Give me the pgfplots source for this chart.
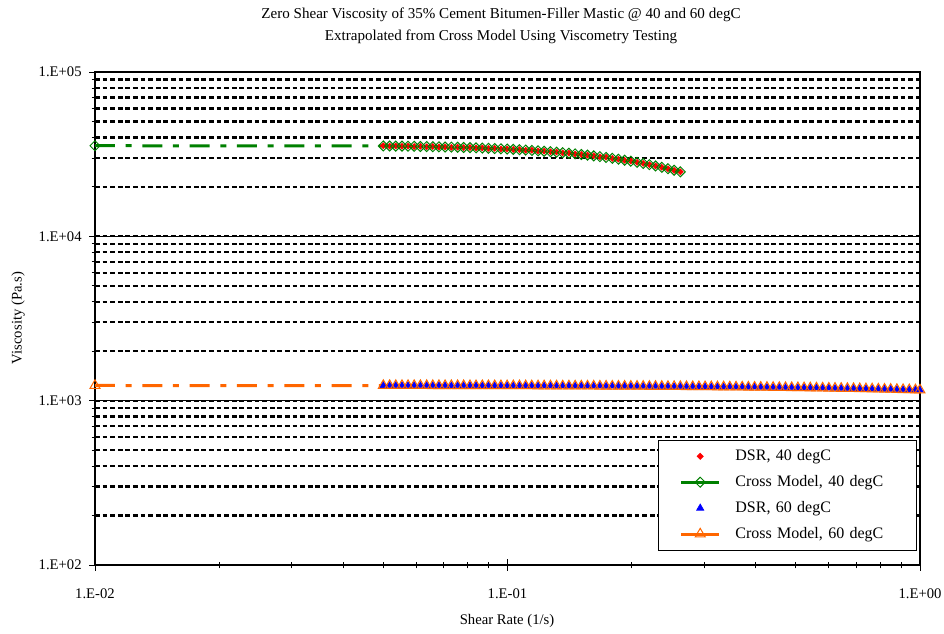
\documentclass[border=0pt]{standalone}
\usepackage{fontspec}
\setmainfont{Liberation Serif}
\usepackage{pgfplots}
\pgfplotsset{compat=1.18}
\usepackage{pgfplotstable}
\definecolor{xlgreen}{RGB}{0,128,0}
\definecolor{xlorange}{RGB}{255,102,0}

\pgfplotstableread{
x y
0.0500 35600
0.0518 35400
0.0536 35500
0.0555 35300
0.0574 35400
0.0594 35200
0.0615 35300
0.0637 35100
0.0659 35200
0.0682 35000
0.0706 35000
0.0731 34800
0.0757 34900
0.0783 34700
0.0811 34700
0.0839 34500
0.0869 34500
0.0899 34300
0.0931 34300
0.0964 34000
0.0998 34000
0.1033 33800
0.1069 33700
0.1107 33400
0.1146 33400
0.1186 33100
0.1227 33000
0.1271 32700
0.1315 32600
0.1361 32200
0.1409 32100
0.1459 31700
0.1510 31500
0.1563 31200
0.1618 30900
0.1675 30500
0.1734 30300
0.1795 29800
0.1858 29500
0.1923 29000
0.1991 28700
0.2061 28200
0.2133 27800
0.2208 27300
0.2286 26800
0.2366 26300
0.2449 25800
0.2535 25200
0.2624 24700
}\dsrforty

\pgfplotstableread{
x y
0.0100 35600
0.0500 35500
0.0518 35460
0.0536 35420
0.0555 35380
0.0574 35340
0.0594 35290
0.0615 35230
0.0637 35180
0.0659 35120
0.0682 35050
0.0706 34980
0.0731 34910
0.0757 34830
0.0783 34740
0.0811 34650
0.0839 34560
0.0869 34450
0.0899 34340
0.0931 34220
0.0964 34090
0.0998 33960
0.1033 33820
0.1069 33660
0.1107 33500
0.1146 33320
0.1186 33140
0.1227 32940
0.1271 32730
0.1315 32510
0.1361 32280
0.1409 32030
0.1459 31760
0.1510 31480
0.1563 31190
0.1618 30880
0.1675 30550
0.1734 30210
0.1795 29850
0.1858 29470
0.1923 29070
0.1991 28660
0.2061 28220
0.2133 27770
0.2208 27310
0.2286 26820
0.2366 26310
0.2449 25790
0.2535 25250
0.2624 24700
}\crossforty

\pgfplotstableread{
x y
0.0500 1237
0.0518 1234
0.0536 1236
0.0555 1235
0.0574 1233
0.0594 1236
0.0615 1234
0.0637 1235
0.0659 1233
0.0682 1235
0.0706 1234
0.0731 1232
0.0757 1235
0.0783 1233
0.0811 1232
0.0839 1234
0.0869 1231
0.0899 1233
0.0931 1232
0.0964 1230
0.0998 1232
0.1033 1231
0.1069 1229
0.1107 1231
0.1145 1230
0.1186 1228
0.1227 1230
0.1271 1229
0.1315 1227
0.1361 1229
0.1409 1228
0.1459 1226
0.1510 1228
0.1563 1226
0.1618 1225
0.1675 1227
0.1734 1224
0.1795 1225
0.1858 1223
0.1923 1224
0.1991 1222
0.2061 1223
0.2133 1221
0.2208 1220
0.2285 1221
0.2366 1219
0.2449 1220
0.2535 1217
0.2624 1218
0.2716 1216
0.2812 1217
0.2911 1214
0.3013 1215
0.3119 1212
0.3228 1213
0.3342 1211
0.3459 1212
0.3581 1209
0.3707 1210
0.3837 1207
0.3972 1208
0.4111 1205
0.4256 1205
0.4405 1203
0.4560 1203
0.4720 1200
0.4886 1201
0.5058 1197
0.5236 1198
0.5420 1194
0.5610 1195
0.5807 1191
0.6012 1192
0.6223 1188
0.6441 1188
0.6668 1184
0.6902 1185
0.7145 1181
0.7396 1181
0.7656 1177
0.7925 1177
0.8203 1173
0.8491 1172
0.8790 1168
0.9099 1168
0.9418 1164
0.9749 1163
1.0000 1160
}\dsrsixty

\pgfplotstableread{
x y
0.0100 1237
0.0500 1235.7
0.0518 1235.6
0.0536 1235.4
0.0555 1235.3
0.0574 1235.1
0.0594 1234.9
0.0615 1234.8
0.0637 1234.6
0.0659 1234.4
0.0682 1234.2
0.0706 1234.0
0.0731 1233.8
0.0757 1233.6
0.0783 1233.3
0.0811 1233.1
0.0839 1232.9
0.0869 1232.6
0.0899 1232.4
0.0931 1232.1
0.0964 1231.8
0.0998 1231.5
0.1033 1231.2
0.1069 1230.9
0.1107 1230.6
0.1145 1230.3
0.1186 1229.9
0.1227 1229.6
0.1271 1229.2
0.1315 1228.9
0.1361 1228.5
0.1409 1228.1
0.1459 1227.6
0.1510 1227.2
0.1563 1226.8
0.1618 1226.3
0.1675 1225.8
0.1734 1225.3
0.1795 1224.8
0.1858 1224.3
0.1923 1223.8
0.1991 1223.2
0.2061 1222.6
0.2133 1222.0
0.2208 1221.4
0.2285 1220.8
0.2366 1220.1
0.2449 1219.4
0.2535 1218.7
0.2624 1218.0
0.2716 1217.2
0.2812 1216.4
0.2911 1215.6
0.3013 1214.8
0.3119 1213.9
0.3228 1213.0
0.3342 1212.1
0.3459 1211.1
0.3581 1210.1
0.3707 1209.1
0.3837 1208.0
0.3972 1206.9
0.4111 1205.8
0.4256 1204.7
0.4405 1203.5
0.4560 1202.2
0.4720 1200.9
0.4886 1199.6
0.5058 1198.2
0.5236 1196.8
0.5420 1195.4
0.5610 1193.9
0.5807 1192.3
0.6012 1190.7
0.6223 1189.0
0.6441 1187.3
0.6668 1185.6
0.6902 1183.8
0.7145 1181.9
0.7396 1180.0
0.7656 1178.0
0.7925 1175.9
0.8203 1173.8
0.8491 1171.6
0.8790 1169.4
0.9099 1167.0
0.9418 1164.7
0.9749 1162.2
1.0000 1160.3
}\crosssixty

\begin{document}
\begin{tikzpicture}
\path[use as bounding box] (0pt,0pt) rectangle (708pt,474.75pt);
\begin{axis}[
  at={(71.25pt,51pt)}, anchor=south west,
  width=618.75pt, height=369.75pt, scale only axis,
  xmode=log, ymode=log,
  xmin=0.01, xmax=1, ymin=100, ymax=100000,
  xtick={0.01,0.1,1}, xticklabels={1.E-02,1.E-01,1.E+00},
  ytick={100,1000,10000,100000}, yticklabels={1.E+02,1.E+03,1.E+04,1.E+05},
  tick pos=left,
  tick align=center,
  major tick length=9pt, minor tick length=5pt,
  every tick/.style={black, line width=0.6pt},
  ymajorgrids, yminorgrids,
  major grid style={black, line width=0.75pt},
  minor grid style={black, line width=1.7pt, dash pattern=on 3.6pt off 2.1pt},
  axis line style={black, line width=1pt},
  ticklabel style={font=\fontsize{11}{13}\selectfont},
  xticklabel style={yshift=-10pt},
  yticklabel style={xshift=-2pt},
  legend style={at={(0.6824,0.2535)}, anchor=north west, draw=black, line width=0.6pt,
    font=\fontsize{12}{14}\selectfont, row sep=5.6pt, column sep=9pt,
    inner xsep=16pt, inner ysep=5pt,
    nodes={text width=118pt, align=left, inner sep=2pt}},
  legend cell align=left,
  legend image code/.code={\draw[mark repeat=2,mark phase=2,#1,solid] plot coordinates {(0pt,0pt) (14.25pt,0pt) (28.5pt,0pt)};},
]
\addplot[only marks, mark=square*, mark size=1.6pt, mark options={rotate=45, red, fill=red}] table {\dsrforty};
\addlegendentry{DSR, 40 degC}
\addplot[xlgreen, line width=2.25pt, dash pattern=on 15pt off 8pt on 4.5pt off 8pt,
  mark=square, mark size=2.65pt, mark options={rotate=45, solid, line width=0.75pt, xlgreen}] table {\crossforty};
\addlegendentry{Cross Model, 40 degC}
\addplot[only marks, mark=triangle*, mark size=3pt, mark options={blue, fill=blue}] table {\dsrsixty};
\addlegendentry{DSR, 60 degC}
\addplot[xlorange, line width=2.25pt, dash pattern=on 15pt off 8pt on 4.5pt off 8pt,
  mark=triangle, mark size=4.3pt, mark options={solid, line width=0.75pt, xlorange}] table {\crosssixty};
\addlegendentry{Cross Model, 60 degC}
\end{axis}
\node[align=center, font=\fontsize{11.3}{16.5}\selectfont] at (375.75pt,455.25pt)
  {Zero Shear Viscosity of 35\% Cement Bitumen-Filler Mastic @ 40 and 60 degC\\Extrapolated from Cross Model Using Viscometry Testing};
\node[rotate=90, font=\fontsize{11}{13}\selectfont] at (13.5pt,236.25pt) {Viscosity (Pa.s)};
\node[font=\fontsize{11}{13}\selectfont] at (380.25pt,9pt) {Shear Rate (1/s)};
\end{tikzpicture}
\end{document}
